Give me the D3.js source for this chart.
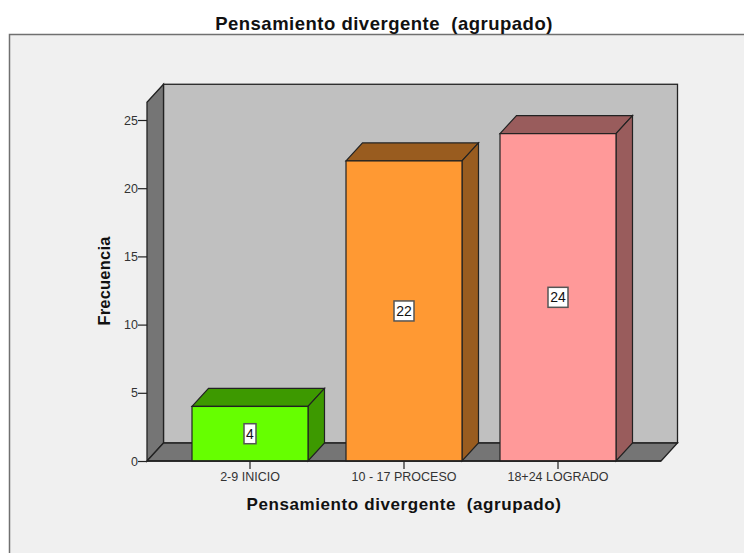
<!DOCTYPE html>
<html>
<head>
<meta charset="utf-8">
<script src="https://cdn.jsdelivr.net/npm/d3@7"></script>
<style>
  html, body { margin: 0; padding: 0; background: #fff; overflow: hidden; }
  text { font-family: "Liberation Sans", Arial, sans-serif; }
</style>
</head>
<body>
<div id="chart"></div>
<script>
// data
var categories = ["2-9 INICIO", "10 - 17 PROCESO", "18+24 LOGRADO"];
var frecuencia = [4, 22, 24];
var barColors = ["#66ff00", "#ff9933", "#ff9999"];
var sideColors = ["#3d9900", "#995c1f", "#995c5c"];
var yTicks = [0, 5, 10, 15, 20, 25];
var chartTitle = "Pensamiento divergente  (agrupado)";
var yTitle = "Frecuencia";

var width = 744, height = 553;
var depthX = 16.5, depthY = 18; // 3d offset of the box
var wallMax = 26.3;

var svg = d3.select("#chart")
    .append("svg")
    .attr("width", width)
    .attr("height", height)
    .style("display", "block");

// scales
var x = d3.scaleBand()
    .domain(categories)
    .range([173, 635])
    .paddingInner(38 / 154)
    .paddingOuter(19 / 154);

var y = d3.scaleLinear()
    .domain([0, 25])
    .range([461, 120]);

var floorLeft = 147, floorRight = 661;
var line = "#222";

function poly(points) {
    return points.map(function (p) { return p.join(","); }).join(" ");
}

// outer panel, runs off the right and bottom edge
svg.append("rect")
    .attr("x", 9.5).attr("y", 34.5)
    .attr("width", width + 10).attr("height", height)
    .attr("fill", "#f0f0f0")
    .attr("stroke", "#707070")
    .attr("stroke-width", 1.5);

svg.append("text")
    .attr("x", 384).attr("y", 30)
    .attr("text-anchor", "middle")
    .attr("font-size", 18.5)
    .attr("font-weight", "bold")
    .attr("letter-spacing", 0.5)
    .attr("fill", "#111")
    .style("white-space", "pre")
    .text(chartTitle);

// back wall
svg.append("rect")
    .attr("x", floorLeft + depthX).attr("y", y(wallMax) - depthY)
    .attr("width", floorRight - floorLeft)
    .attr("height", y(0) - y(wallMax))
    .attr("fill", "#c0c0c0")
    .attr("stroke", line).attr("stroke-width", 1.3);

// left wall
svg.append("polygon")
    .attr("points", poly([
        [floorLeft, y(wallMax)],
        [floorLeft + depthX, y(wallMax) - depthY],
        [floorLeft + depthX, y(0) - depthY],
        [floorLeft, y(0)]
    ]))
    .attr("fill", "#757575")
    .attr("stroke", line).attr("stroke-width", 1.3);

// floor
svg.append("polygon")
    .attr("points", poly([
        [floorLeft, y(0)],
        [floorLeft + depthX, y(0) - depthY],
        [floorRight + depthX, y(0) - depthY],
        [floorRight, y(0)]
    ]))
    .attr("fill", "#757575")
    .attr("stroke", line).attr("stroke-width", 1.3);

// y axis
var yAxis = d3.axisLeft(y)
    .tickValues(yTicks)
    .tickSize(9)
    .tickPadding(0);

var yG = svg.append("g")
    .attr("transform", "translate(" + floorLeft + ",0)")
    .call(yAxis);
yG.select(".domain").remove();
yG.selectAll("line").attr("stroke", line).attr("stroke-width", 1.2);
yG.selectAll("text")
    .attr("font-size", 12.5)
    .attr("fill", "#333")
    .style("font-family", '"Liberation Sans", Arial, sans-serif');

// x axis
var xAxis = d3.axisBottom(x)
    .tickSize(8)
    .tickPadding(3.5);

var xG = svg.append("g")
    .attr("transform", "translate(0," + y(0) + ")")
    .call(xAxis);
xG.select(".domain").remove();
xG.selectAll("line").attr("stroke", line).attr("stroke-width", 1.2);
xG.selectAll("text")
    .attr("font-size", 12.5)
    .attr("fill", "#333")
    .style("font-family", '"Liberation Sans", Arial, sans-serif');

// bars
var bars = svg.selectAll(".bar")
    .data(categories)
    .enter()
    .append("g")
    .attr("class", "bar");

bars.each(function (d, i) {
    var g = d3.select(this);
    var x0 = x(d), x1 = x(d) + x.bandwidth();
    var top = y(frecuencia[i]), base = y(0);

    // top face
    g.append("polygon")
        .attr("points", poly([
            [x0, top],
            [x0 + depthX, top - depthY],
            [x1 + depthX, top - depthY],
            [x1, top]
        ]))
        .attr("fill", sideColors[i])
        .attr("stroke", line).attr("stroke-width", 1.2);

    // side face
    g.append("polygon")
        .attr("points", poly([
            [x1, top],
            [x1 + depthX, top - depthY],
            [x1 + depthX, base - depthY],
            [x1, base]
        ]))
        .attr("fill", sideColors[i])
        .attr("stroke", line).attr("stroke-width", 1.2);

    // front face
    g.append("rect")
        .attr("x", x0).attr("y", top)
        .attr("width", x1 - x0).attr("height", base - top)
        .attr("fill", barColors[i])
        .attr("stroke", line).attr("stroke-width", 1.2);

    // value label
    var label = String(frecuencia[i]);
    var cx = (x0 + x1) / 2, cy = (top + base) / 2;
    var w = label.length > 1 ? 20 : 12;
    g.append("rect")
        .attr("x", cx - w / 2).attr("y", cy - 10)
        .attr("width", w).attr("height", 20)
        .attr("fill", "#fff")
        .attr("stroke", "#555").attr("stroke-width", 1.5);
    g.append("text")
        .attr("x", cx).attr("y", cy + 5)
        .attr("text-anchor", "middle")
        .attr("font-size", 14)
        .attr("fill", "#111")
        .text(label);
});

// floor front line on top of everything
svg.append("line")
    .attr("x1", floorLeft).attr("x2", floorRight)
    .attr("y1", y(0)).attr("y2", y(0))
    .attr("stroke", line).attr("stroke-width", 1.5);

// axis titles
svg.append("text")
    .attr("x", 404).attr("y", 510)
    .attr("text-anchor", "middle")
    .attr("font-size", 17)
    .attr("font-weight", "bold")
    .attr("letter-spacing", 0.6)
    .attr("fill", "#111")
    .style("white-space", "pre")
    .text(chartTitle);

svg.append("text")
    .attr("transform", "translate(110,281) rotate(-90)")
    .attr("text-anchor", "middle")
    .attr("font-size", 16.5)
    .attr("font-weight", "bold")
    .attr("letter-spacing", 0.2)
    .attr("fill", "#111")
    .text(yTitle);
</script>
</body>
</html>
